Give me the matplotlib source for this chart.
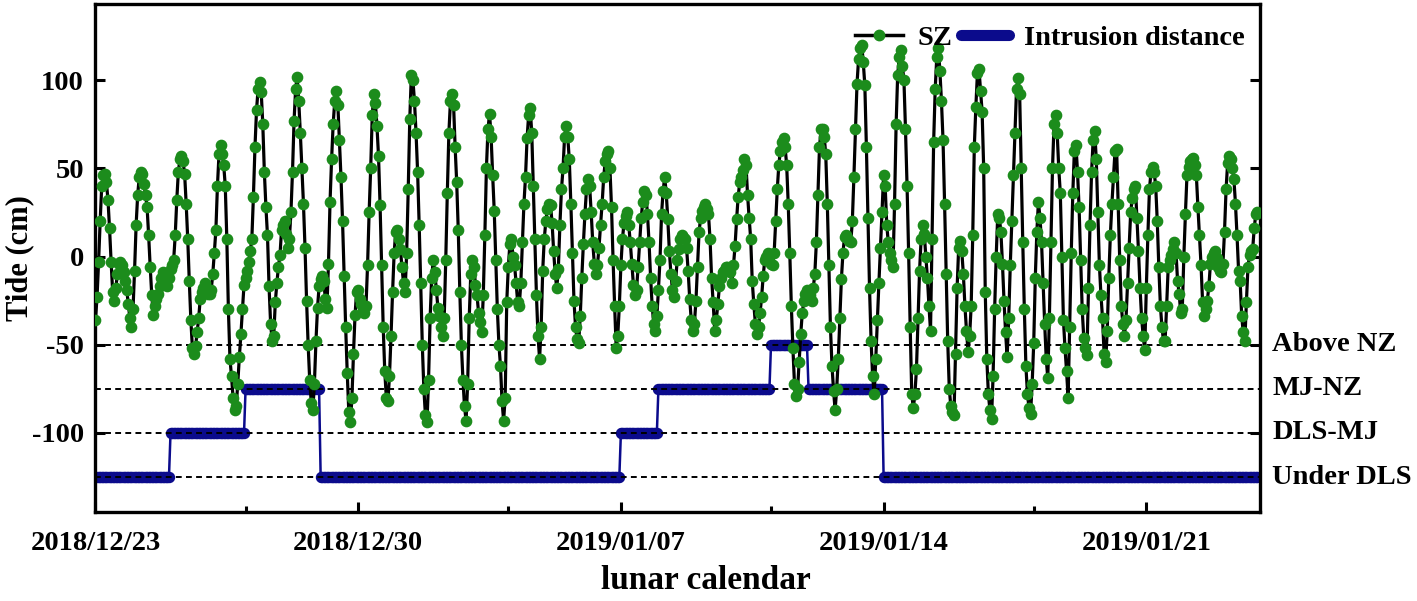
import numpy as np
import matplotlib
matplotlib.use("Agg")
import matplotlib.pyplot as plt
from matplotlib.lines import Line2D
from matplotlib.transforms import blended_transform_factory

# ---------------- data (hourly SZ tide, cm) ----------------
sz_week1 = [
    -36, -23, -3, 20, 40, 46, 47, 42, 32, 16, -3, -20, -25, -18, -10, -4, -3, -5, -9, -14, -19, -27, -35, -40,
    -30, -8, 18, 35, 45, 48, 47, 41, 35, 28, 12, -6, -22, -33, -28, -24, -21, -17, -12, -9, -10, -14, -17, -12,
    -7, -5, -2, 12, 32, 48, 55, 57, 54, 47, 30, 10, -14, -36, -52, -55, -51, -43, -35, -24, -20, -18, -15, -18,
    -21, -21, -19, -10, 2, 15, 40, 58, 63, 58, 52, 40, 10, -30, -58, -68, -80, -87, -85, -72, -57, -44, -30, -16,
    -12, -8, -3, 3, 10, 34, 62, 83, 95, 99, 93, 75, 48, 28, 12, -17, -38, -48, -45, -26, -15, -6, 1, 15,
    18, 20, 13, 5, 10, 25, 48, 77, 95, 102, 88, 70, 50, 30, 5, -25, -50, -70, -83, -87, -72, -48, -29, -17,
    -13, -11, -14, -24, -29, -4, 31, 55, 75, 88, 94, 86, 66, 45, 20, -11, -40, -66, -88, -94, -80, -55, -33, -20,
]
sz_week2 = [
    -19, -24, -27, -30, -32, -28, -5, 25, 50, 80, 92, 87, 74, 57, 29, -5, -40, -65, -80, -82, -68, -45, -20, 2,
    14, 15, 10, 4, -6, -15, -20, 2, 38, 78, 103, 100, 88, 70, 48, 18, -15, -50, -75, -90, -94, -70, -35, -12,
    -2, -9, -19, -29, -34, -40, -45, -35, -2, 36, 70, 88, 92, 86, 62, 42, 15, -20, -50, -70, -85, -93, -72, -35,
    -10, -2, -6, -16, -22, -32, -37, -43, -22, 12, 50, 72, 81, 68, 46, 26, -2, -30, -50, -62, -82, -93, -80, -26,
    -6, 7, 10, 0, -5, -15, -26, -28, -15, 8, 30, 45, 67, 80, 84, 70, 40, 10, -22, -45, -58, -40, -8, 10,
    20, 27, 30, 29, 19, 3, -10, -18, -7, 18, 38, 50, 68, 74, 68, 55, 30, 2, -25, -40, -47, -49, -34, -12,
    7, 24, 38, 44, 40, 25, 8, -4, -10, -5, 5, 18, 30, 45, 54, 58, 60, 50, 28, -2, -28, -52, -45, -28,
]
sz_week3 = [
    -5, 10, 19, 23, 25, 18, 8, -4, -16, -22, -19, -6, 8, 22, 31, 37, 35, 24, 8, -12, -28, -38, -42, -34,
    -19, -2, 24, 37, 45, 36, 21, 3, -10, -19, -23, -14, -2, 4, 10, 12, 11, 10, 5, -8, -24, -36, -42, -38,
    -25, -6, 14, 22, 26, 28, 30, 27, 24, 10, -12, -26, -42, -36, -27, -17, -12, -9, -8, -6, -6, -8, -9, -15,
    -5, 6, 21, 34, 42, 45, 49, 55, 52, 35, 22, 10, -14, -27, -38, -44, -40, -32, -23, -11, -2, 0, 2, 0,
    -4, -5, 2, 20, 38, 52, 60, 65, 67, 62, 52, 30, 2, -28, -52, -72, -79, -75, -60, -44, -32, -25, -21, -19,
    -20, -22, -25, -18, -10, 8, 35, 62, 72, 72, 68, 58, 30, -5, -40, -62, -76, -87, -75, -58, -35, -13, 2, 11,
    12, 10, 9, 8, 20, 45, 72, 98, 112, 118, 120, 110, 97, 62, 22, -18, -48, -68, -78, -58, -36, -15, 5, 25,
]
sz_week4 = [
    46, 40, 18, 8, 2, -2, -6, 30, 75, 103, 113, 117, 108, 100, 72, 40, 2, -40, -78, -86, -78, -64, -35, -8,
    10, 18, 13, 0, -12, -28, -42, 10, 65, 95, 113, 118, 105, 88, 66, 30, -10, -48, -75, -85, -88, -90, -55, -18,
    5, 9, 3, -10, -28, -42, -54, -45, -28, 12, 62, 85, 104, 106, 94, 82, 50, -20, -58, -78, -87, -92, -68, -30,
    0, 24, 22, 14, -4, -25, -43, -57, -35, -5, 20, 46, 70, 95, 101, 92, 50, 8, -30, -62, -78, -86, -89, -72,
    -49, -12, 14, 31, 22, 8, -15, -38, -58, -69, -35, 8, 50, 75, 80, 70, 50, 36, 0, -36, -52, -65, -80, -40,
    2, 36, 60, 63, 48, 28, -2, -30, -46, -52, -56, -18, 18, 48, 66, 71, 55, 25, -5, -22, -35, -55, -60, -42,
    -12, 12, 30, 45, 60, 61, 30, -2, -28, -38, -45, -36, -15, 5, 25, 33, 38, 40, 22, 3, -18, -35, -45, -53,
]
sz_week5 = [
    -18, 12, 38, 48, 51, 48, 40, 20, -6, -28, -40, -48, -48, -28, -6, -2, 1, 4, 8, 2, -14, -21, -32, -30,
    0, 24, 46, 51, 54, 55, 56, 52, 46, 28, 12, -5, -26, -34, -30, -25, -17, -4, 0, 2, 3, -1, -6, -8,
    -9, -4, 14, 38, 53, 57, 55, 50, 44, 30, 12, -8, -14, -34, -43, -48, -26, -6, 1, 3, 4, 16, 24, 25,
]

# daily intrusion distance class (plotted on the tide axis levels)
intrusion_daily = [-125, -125, -100, -100, -75, -75,
                   -125, -125, -125, -125, -125, -125, -125, -125,
                   -100, -75, -75, -75, -50, -75, -75,
                   -125, -125, -125, -125, -125, -125, -125, -125, -125, -125]

tick_hours = [0, 168, 336, 504, 672]
tick_labels = ["2018/12/23", "2018/12/30", "2019/01/07", "2019/01/14", "2019/01/21"]
minor_hours = [96, 264, 432, 600]
zone_levels = [-50, -75, -100, -125]
zone_labels = ["Above NZ", "MJ-NZ", "DLS-MJ", "Under DLS"]
y_ticks = [-100, -50, 0, 50, 100]

# ---------------- style ----------------
plt.rcParams["font.family"] = ["Liberation Serif", "DejaVu Serif"]
plt.rcParams["font.weight"] = "bold"
plt.rcParams["axes.unicode_minus"] = False

GREEN = "#1c8c1c"
BLUE = "#0b0b8c"

tide = np.array(sz_week1 + sz_week2 + sz_week3 + sz_week4 + sz_week5, dtype=float)
hours = np.arange(len(tide))
intrusion = np.repeat(np.array(intrusion_daily, dtype=float), 24)[: len(tide)]

W, H = 1417, 601
fig = plt.figure(figsize=(W / 100, H / 100), dpi=100)
L, R, T, B = 95, 1260, 4, 512
ax = fig.add_axes([L / W, 1 - B / H, (R - L) / W, (B - T) / H])

ax.plot(hours[: len(intrusion)], intrusion, color=BLUE, lw=1.8, marker="o", ms=7.2,
        mfc=BLUE, mec=BLUE, zorder=2)
for lvl in zone_levels:
    ax.axhline(lvl, color="black", lw=1.4, ls=(0, (3, 2.2)), zorder=2.5)
ax.plot(hours, tide, color="black", lw=2.3, marker="o", ms=7.4, mfc=GREEN, mec=GREEN, zorder=3)

ax.set_xlim(-0.3, 744.7)
ax.set_ylim(-144.8, 143.1)

ax.set_xticks(tick_hours)
ax.set_xticklabels(tick_labels)
ax.set_xticks(minor_hours, minor=True)
ax.set_yticks(y_ticks)
ax.set_yticklabels([str(v) for v in y_ticks])

ax.tick_params(axis="both", which="major", direction="in", length=7, width=2.2,
               labelsize=20.5, right=True, top=False)
ax.tick_params(axis="x", which="major", pad=14)
ax.tick_params(axis="y", which="major", pad=8)
ax.tick_params(axis="x", which="minor", direction="in", length=4, width=2.2, top=False)
for sp in ax.spines.values():
    sp.set_linewidth(2.4)

ax.set_xlabel("lunar calendar", fontsize=24, fontweight="bold")
ax.xaxis.set_label_coords((706 - L) / (R - L), -0.105)
ax.set_ylabel("Tide (cm)", fontsize=22, fontweight="bold")
ax.yaxis.set_label_coords(-0.052, 0.5)

trans = blended_transform_factory(ax.transAxes, ax.transData)
for lvl, lab in zip(zone_levels, zone_labels):
    ax.text(1.0105, lvl, lab, transform=trans, ha="left", va="center",
            fontsize=20.5, fontweight="bold")

h_sz = Line2D([], [], color="black", lw=2.5, marker="o", ms=7.5, mfc=GREEN, mec=GREEN)
h_in = Line2D([], [], color=BLUE, lw=8, solid_capstyle="round")
ax.legend([h_sz, h_in], ["SZ", "Intrusion distance"], ncol=2, loc="upper right",
          frameon=False, prop={"weight": "bold", "size": 20.5}, handlelength=1.7,
          handletextpad=0.5, columnspacing=0.3, borderaxespad=0.15,
          bbox_to_anchor=(1.0, 0.99))

fig.savefig("out.png", dpi=100)
